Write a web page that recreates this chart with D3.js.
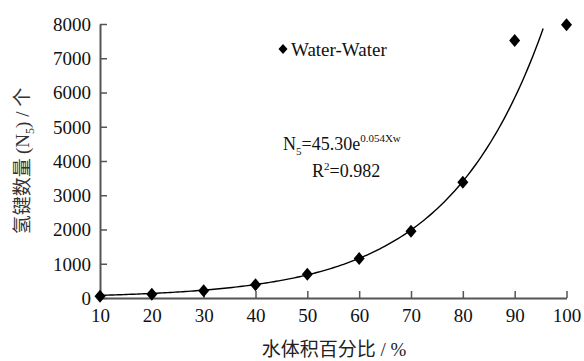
<!DOCTYPE html>
<html><head><meta charset="utf-8">
<script src="https://cdn.jsdelivr.net/npm/d3@7"></script>
<style>
body{margin:0;background:#fff;}
svg{display:block;}
svg text{font-family:"Liberation Serif","Times New Roman",serif;}
</style></head>
<body>
<script>
const xValues = [10, 20, 30, 40, 50, 60, 70, 80, 90, 100];
const nValues = [50, 110, 210, 390, 690, 1150, 1950, 3380, 7520, 7980];
const xTicks = [10, 20, 30, 40, 50, 60, 70, 80, 90, 100];
const yTicks = [0, 1000, 2000, 3000, 4000, 5000, 6000, 7000, 8000];
const fitA = 45.30, fitB = 0.054, fitEnd = 95.6;
const seriesName = "Water-Water";
const xTitle = "水体积百分比 / %";

const W = 584, H = 361;
const SERIF = "'Liberation Serif','Times New Roman',serif";
const CJK = "'Noto Sans CJK SC',sans-serif";
const svg = d3.select("body").append("svg").attr("width", W).attr("height", H);
const x = d3.scaleLinear().domain([10, 100]).range([100, 566.5]);
const y = d3.scaleLinear().domain([0, 8000]).range([298, 24]);
const axisColor = "#555";

// trend line (from fitted equation)
const fitXs = d3.range(10, fitEnd + 0.01, 0.5);
const line = d3.line().x(d => x(d)).y(d => y(fitA * Math.exp(fitB * d)));
svg.append("path").attr("d", line(fitXs)).attr("fill", "none").attr("stroke", "#000").attr("stroke-width", 1.4);

// axes
const xAxis = d3.axisBottom(x).tickValues(xTicks).tickFormat(d3.format("d")).tickSizeInner(-7).tickSizeOuter(0).tickPadding(11);
const gx = svg.append("g").attr("transform", `translate(0,${y(0)})`).call(xAxis);
const yAxis = d3.axisLeft(y).tickValues(yTicks).tickFormat(d3.format("d")).tickSizeInner(-7).tickSizeOuter(0).tickPadding(9);
const gy = svg.append("g").attr("transform", `translate(${x(10)},0)`).call(yAxis);
[gx, gy].forEach(g => {
  g.attr("font-family", SERIF).attr("font-size", 19);
  g.select(".domain").attr("stroke", axisColor).attr("stroke-width", 2);
  g.selectAll(".tick line").attr("stroke", axisColor).attr("stroke-width", 1.5);
  g.selectAll(".tick text").attr("fill", "#111").attr("font-family", SERIF).style("font-family", SERIF).style("font-size", "19px");
});
gx.selectAll(".tick text").attr("dy", "0.71em");
gy.selectAll(".tick text").attr("dy", "0.34em");

// markers
const diamond = (cx, cy, w, h) => `M${cx},${cy-h}L${cx+w},${cy}L${cx},${cy+h}L${cx-w},${cy}Z`;
svg.append("g").selectAll("path").data(xValues).join("path")
  .attr("d", (d, i) => diamond(x(d), y(nValues[i]), 5.5, 6.5))
  .attr("fill", "#000");

// legend
svg.append("path").attr("d", diamond(283, 49, 4.5, 5)).attr("fill", "#000");
svg.append("text").attr("x", 291).attr("y", 55.5).style("font-size", "19px").attr("fill", "#111").text(seriesName);

// equation
const eq = svg.append("text").attr("x", 283).attr("y", 150).style("font-size", "18px").attr("fill", "#111");
eq.append("tspan").text("N");
eq.append("tspan").attr("dy", 5).style("font-size", "11px").text("5");
eq.append("tspan").attr("dy", -5).text("=45.30e");
eq.append("tspan").attr("dy", -8).style("font-size", "11px").text("0.054Xw");
const r2 = svg.append("text").attr("x", 312).attr("y", 177).style("font-size", "18px").attr("fill", "#111");
r2.append("tspan").text("R");
r2.append("tspan").attr("dy", -7).style("font-size", "11px").text("2");
r2.append("tspan").attr("dy", 7).text("=0.982");

// y title
const yt = svg.append("text").attr("transform", "translate(29,161) rotate(-90)").attr("text-anchor", "middle")
  .style("font-size", "19px").attr("fill", "#333");
yt.append("tspan").style("font-family", CJK).text("氢键数量 ");
yt.append("tspan").text("(N");
yt.append("tspan").attr("dy", 5).style("font-size", "12px").text("5");
yt.append("tspan").attr("dy", -5).text(") / ");
yt.append("tspan").style("font-family", CJK).text("个");

// x title
const xt = svg.append("text").attr("x", 334).attr("y", 356).attr("text-anchor", "middle").style("font-size", "19px").attr("fill", "#222");
xt.append("tspan").style("font-family", CJK).text(xTitle.split(" / ")[0]);
xt.append("tspan").text(" / " + xTitle.split(" / ")[1]);
</script>
</body></html>
